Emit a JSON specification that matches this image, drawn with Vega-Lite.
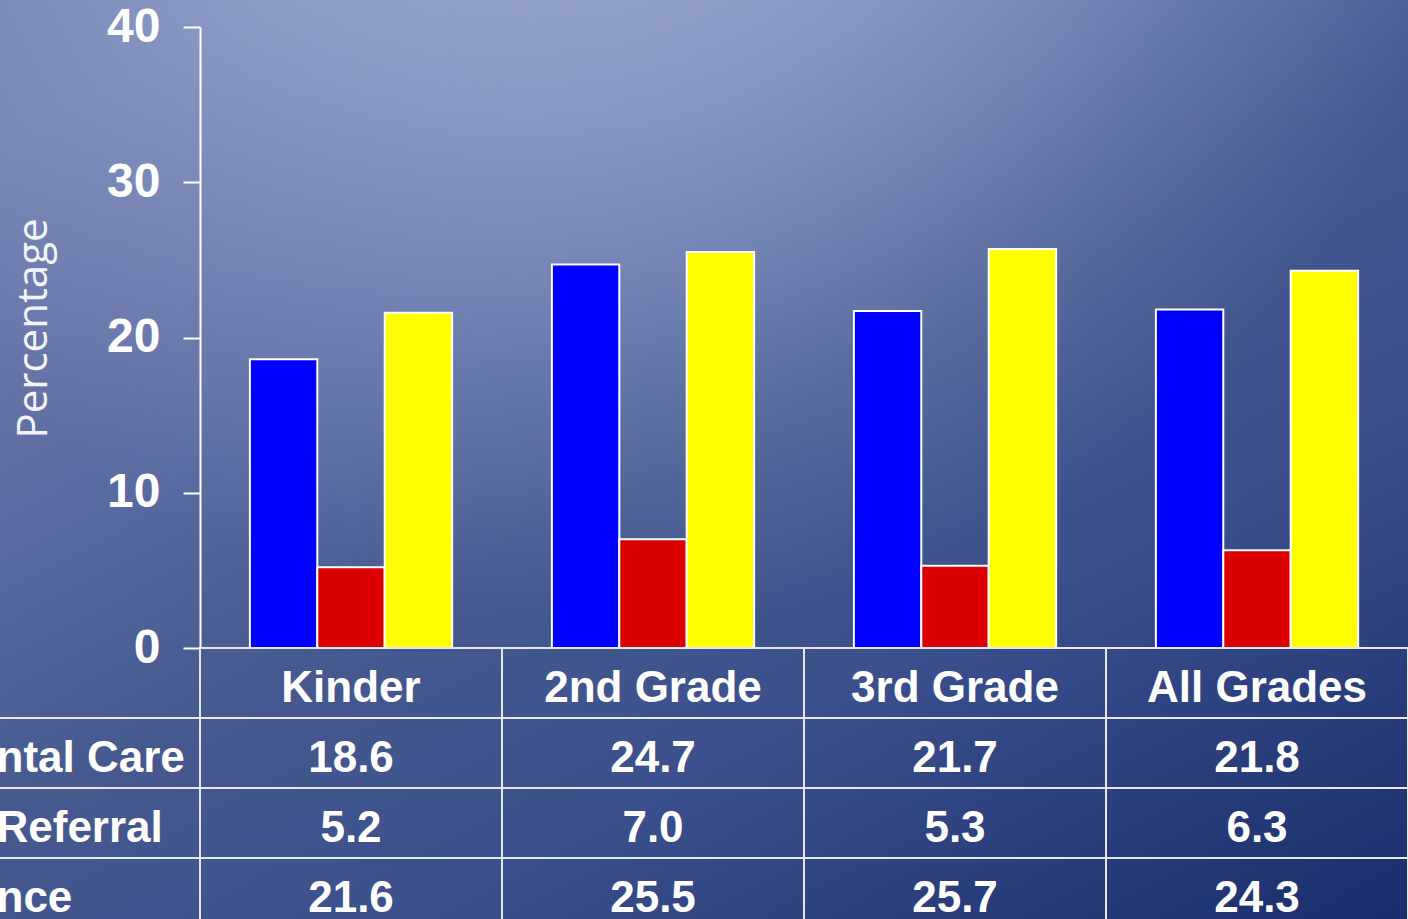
{
  "$schema": "https://vega.github.io/schema/vega-lite/v6.json",
  "width": 1408,
  "height": 919,
  "autosize": {"type": "none"},
  "padding": 0,
  "background": "#3d5290",
  "config": {"view": {"stroke": null}},
  "layer": [
    {
      "data": {"values": [{}]},
      "mark": {
        "type": "rect",
        "fill": {
          "gradient": "linear",
          "x1": 0.2, "y1": 0, "x2": 1, "y2": 1,
          "stops": [
            {"offset": 0, "color": "#6f7fb0"},
            {"offset": 0.15, "color": "#6573a8"},
            {"offset": 0.3, "color": "#55689e"},
            {"offset": 0.45, "color": "#46598f"},
            {"offset": 0.65, "color": "#3b508c"},
            {"offset": 1, "color": "#1a2d6c"}
          ]
        }
      },
      "encoding": {
        "x": {"value": 0}, "x2": {"value": "width"},
        "y": {"value": 0}, "y2": {"value": "height"}
      }
    },
    {
      "data": {"values": [{}]},
      "mark": {
        "type": "rect",
        "fill": {
          "gradient": "radial",
          "x1": 0.43, "y1": 0, "r1": 0, "x2": 0.43, "y2": 0, "r2": 0.62,
          "stops": [
            {"offset": 0, "color": "rgba(180,194,230,0.68)"},
            {"offset": 0.42, "color": "rgba(180,194,230,0.46)"},
            {"offset": 0.75, "color": "rgba(180,194,230,0.18)"},
            {"offset": 1, "color": "rgba(180,194,230,0)"}
          ]
        }
      },
      "encoding": {
        "x": {"value": 0}, "x2": {"value": "width"},
        "y": {"value": 0}, "y2": {"value": "height"}
      }
    },
    {
      "data": {
        "values": [
          {"grade": "Kinder", "series": "ntal Care", "value": 18.6},
          {"grade": "Kinder", "series": "Referral", "value": 5.2},
          {"grade": "Kinder", "series": "nce", "value": 21.6},
          {"grade": "2nd Grade", "series": "ntal Care", "value": 24.7},
          {"grade": "2nd Grade", "series": "Referral", "value": 7.0},
          {"grade": "2nd Grade", "series": "nce", "value": 25.5},
          {"grade": "3rd Grade", "series": "ntal Care", "value": 21.7},
          {"grade": "3rd Grade", "series": "Referral", "value": 5.3},
          {"grade": "3rd Grade", "series": "nce", "value": 25.7},
          {"grade": "All Grades", "series": "ntal Care", "value": 21.8},
          {"grade": "All Grades", "series": "Referral", "value": 6.3},
          {"grade": "All Grades", "series": "nce", "value": 24.3}
        ]
      },
      "mark": {"type": "bar", "stroke": "#ffffff", "strokeWidth": 2},
      "encoding": {
        "x": {
          "field": "grade", "type": "nominal",
          "scale": {"domain": ["Kinder", "2nd Grade", "3rd Grade", "All Grades"], "range": [200, 1408], "paddingInner": 0, "paddingOuter": 0},
          "axis": null
        },
        "xOffset": {
          "field": "series", "type": "nominal",
          "scale": {"domain": ["ntal Care", "Referral", "nce"], "paddingInner": 0, "paddingOuter": 0.74}
        },
        "y": {
          "field": "value", "type": "quantitative",
          "scale": {"domain": [0, 40], "range": [648, 27], "nice": false},
          "axis": {
            "orient": "left",
            "offset": -200,
            "zindex": 2,
            "values": [0, 10, 20, 30, 40],
            "grid": false,
            "domainColor": "#ffffff",
            "domainWidth": 2,
            "tickColor": "#ffffff",
            "tickWidth": 2,
            "tickSize": 17,
            "labelColor": "#ffffff",
            "labelFont": "Liberation Sans",
            "labelFontWeight": "bold",
            "labelFontSize": 48,
            "labelPadding": 23,
            "labelBaseline": "middle",
            "title": "Percentage",
            "titleFont": "Open Sans",
            "titleFontSize": 42,
            "titleFontWeight": "normal",
            "titleColor": "#f2f4fa",
            "titleAngle": -90,
            "titleAlign": "center",
            "titleBaseline": "middle",
            "titleX": -167,
            "titleY": 328
          }
        },
        "color": {
          "field": "series", "type": "nominal",
          "scale": {"domain": ["ntal Care", "Referral", "nce"], "range": ["#0000ff", "#dd0000", "#ffff00"]},
          "legend": null
        }
      }
    },
    {
      "layer": [
        {
          "data": {
            "values": [
              {"grade": "Kinder", "row": "header", "label": "Kinder"},
              {"grade": "2nd Grade", "row": "header", "label": "2nd Grade"},
              {"grade": "3rd Grade", "row": "header", "label": "3rd Grade"},
              {"grade": "All Grades", "row": "header", "label": "All Grades"},
              {"grade": "Kinder", "row": "ntal Care", "label": "18.6"},
              {"grade": "2nd Grade", "row": "ntal Care", "label": "24.7"},
              {"grade": "3rd Grade", "row": "ntal Care", "label": "21.7"},
              {"grade": "All Grades", "row": "ntal Care", "label": "21.8"},
              {"grade": "Kinder", "row": "Referral", "label": "5.2"},
              {"grade": "2nd Grade", "row": "Referral", "label": "7.0"},
              {"grade": "3rd Grade", "row": "Referral", "label": "5.3"},
              {"grade": "All Grades", "row": "Referral", "label": "6.3"},
              {"grade": "Kinder", "row": "nce", "label": "21.6"},
              {"grade": "2nd Grade", "row": "nce", "label": "25.5"},
              {"grade": "3rd Grade", "row": "nce", "label": "25.7"},
              {"grade": "All Grades", "row": "nce", "label": "24.3"}
            ]
          },
          "layer": [
            {"mark": {"type": "rect", "fill": "transparent", "stroke": "#e4e8f2", "strokeWidth": 2}},
            {
              "mark": {"type": "text", "font": "Liberation Sans", "fontWeight": "bold", "fontSize": 44, "color": "#ffffff", "baseline": "middle", "align": "center", "dy": 6},
              "encoding": {"text": {"field": "label"}}
            }
          ],
          "encoding": {
            "x": {
              "field": "grade", "type": "nominal",
              "scale": {"domain": ["Kinder", "2nd Grade", "3rd Grade", "All Grades"], "range": [200, 1408], "paddingInner": 0, "paddingOuter": 0},
              "axis": null
            },
            "y": {
              "field": "row", "type": "nominal",
              "scale": {"domain": ["header", "ntal Care", "Referral", "nce"], "range": [648, 928], "paddingInner": 0, "paddingOuter": 0},
              "axis": {
                "orient": "left",
                "offset": -200,
                "zindex": 2,
                "domain": false,
                "ticks": false,
                "grid": false,
                "title": null,
                "labelExpr": "datum.value == 'header' ? '' : datum.value",
                "labelAlign": "left",
                "labelBaseline": "middle",
                "labelPadding": 204,
                "labelOffset": 6,
                "labelLimit": 0,
                "labelColor": "#ffffff",
                "labelFont": "Liberation Sans",
                "labelFontWeight": "bold",
                "labelFontSize": 44
              }
            }
          }
        },
        {
          "data": {"values": [{"row": "ntal Care"}, {"row": "Referral"}, {"row": "nce"}]},
          "mark": {"type": "rule", "stroke": "#e4e8f2", "strokeWidth": 2},
          "encoding": {
            "y": {"field": "row", "type": "nominal", "bandPosition": 0}
          }
        }
      ]
    }
  ],
  "resolve": {"scale": {"y": "independent"}}
}
